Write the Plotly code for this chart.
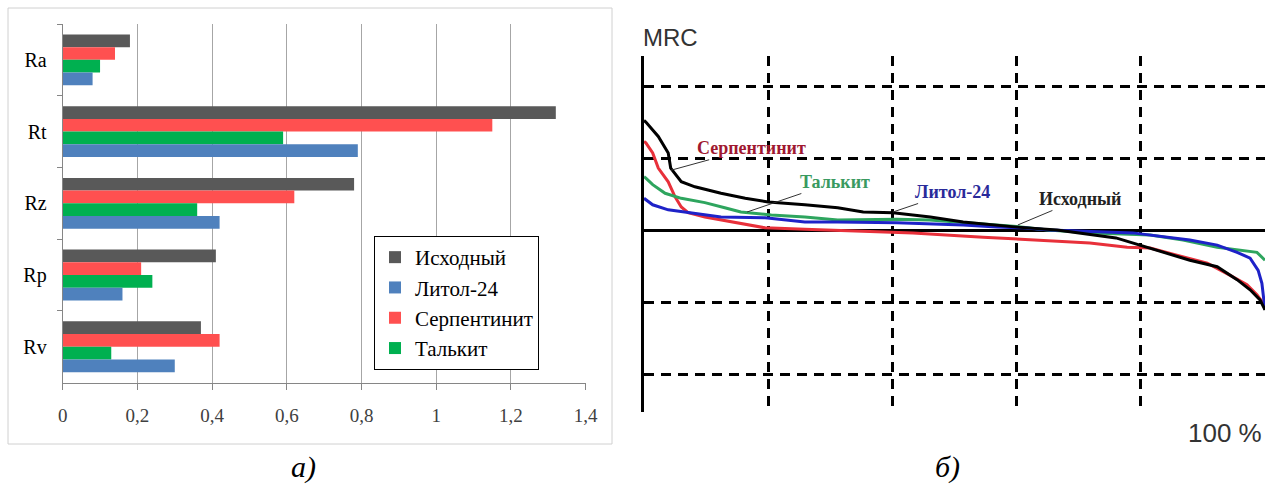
import plotly.graph_objects as go

# ---------- panel a) data ----------
params = ["Ra", "Rt", "Rz", "Rp", "Rv"]
ishodny = [0.18, 1.32, 0.78, 0.41, 0.37]
litol = [0.08, 0.79, 0.42, 0.16, 0.30]
serpentinit = [0.14, 1.15, 0.62, 0.21, 0.42]
talkit = [0.10, 0.59, 0.36, 0.24, 0.13]
xticks = [0, 0.2, 0.4, 0.6, 0.8, 1.0, 1.2, 1.4]
xticktext = ["0", "0,2", "0,4", "0,6", "0,8", "1", "1,2", "1,4"]

# ---------- panel б) data (material ratio curves) ----------
blk_x = [0, 0.3, 2.3, 3.9, 4.3, 6.0, 8.2, 12.4, 16.3, 20.0, 25.9, 31.2, 35.3, 40.1, 46.1, 51.4, 60.1, 66.5,
         76.0, 79.9, 84.2, 87.9, 92.3, 95.5, 97.6, 99.2, 100]
blk_y = [1.52, 1.50, 1.30, 1.07, 0.86, 0.67, 0.60, 0.51, 0.44, 0.39, 0.35, 0.31, 0.25, 0.24, 0.18, 0.11, 0.04, 0.0,
         -0.11, -0.21, -0.32, -0.42, -0.51, -0.69, -0.83, -0.97, -1.11]
red_x = [0, 0.3, 1.4, 2.3, 3.9, 5.0, 6.0, 7.1, 9.8, 15.1, 19.5, 25.9, 30.0, 43.3, 54.6, 63.8, 71.8, 77.8, 81.5,
         85.8, 90.7, 94.4, 97.1, 98.7, 99.7, 100]
red_y = [1.23, 1.21, 1.07, 0.86, 0.67, 0.46, 0.32, 0.24, 0.18, 0.10, 0.03, 0.01, 0.0, -0.04, -0.10, -0.14, -0.18,
         -0.24, -0.25, -0.35, -0.46, -0.63, -0.76, -0.90, -1.01, -1.05]
grn_x = [0, 0.3, 1.4, 3.4, 6.0, 9.8, 13.0, 15.6, 20.5, 25.9, 31.2, 40.7, 46.0, 50.4, 60.0, 65.0, 72.3, 81.5, 86.8,
         92.3, 96.5, 98.7, 100]
grn_y = [0.74, 0.72, 0.63, 0.51, 0.44, 0.38, 0.31, 0.25, 0.21, 0.18, 0.14, 0.15, 0.14, 0.11, 0.05, 0.0, -0.04,
         -0.07, -0.14, -0.24, -0.28, -0.31, -0.42]
blu_x = [0, 0.3, 1.4, 3.9, 7.1, 12.4, 19.5, 25.9, 31.2, 40.7, 51.4, 56.8, 61.0, 65.4, 78.7, 84.2, 87.9, 92.3, 95.5,
         97.6, 98.9, 99.5, 100]
blu_y = [0.44, 0.42, 0.35, 0.28, 0.24, 0.18, 0.17, 0.11, 0.11, 0.10, 0.07, 0.04, 0.03, 0.0, -0.04, -0.10, -0.14,
         -0.21, -0.31, -0.39, -0.56, -0.74, -1.11]
mrc_xgrid = [20, 40, 60, 80, 100]
mrc_ygrid = [-2, -1, 0, 1, 2]

W, H = 1276, 486
def px(x):
    return x / W
def py(y):
    return 1 - y / H

SERIF = "Liberation Serif, Times New Roman, serif"
SANS = "Liberation Sans, Arial, sans-serif"

fig = go.Figure()

# bars: trace order = top to bottom within group (y axis reversed)
bar_specs = [
    ("Исходный", ishodny, "#595959", 1),
    ("Серпентинит", serpentinit, "#FF5050", 3),
    ("Талькит", talkit, "#00B050", 4),
    ("Литол-24", litol, "#4F81BD", 2),
]
for name, vals, col, rank in bar_specs:
    fig.add_trace(go.Bar(
        y=params, x=vals, name=name, orientation="h",
        marker=dict(color=col, line=dict(width=0)),
        legendrank=rank, xaxis="x", yaxis="y",
    ))

# MRC curves
for xs, ys, col in [(red_x, red_y, "#E8303A"), (grn_x, grn_y, "#2EA55E"),
                    (blu_x, blu_y, "#1E22C8"), (blk_x, blk_y, "#000000")]:
    fig.add_trace(go.Scatter(
        x=xs, y=ys, mode="lines", line=dict(color=col, width=3),
        showlegend=False, xaxis="x2", yaxis="y2",
    ))

def paper_text(text, x, y, family, size, color="#000", xanchor="center"):
    return dict(text=text, x=px(x), y=py(y), xref="paper", yref="paper", xanchor=xanchor,
                yanchor="middle", showarrow=False, font=dict(family=family, size=size, color=color))

annotations = [
    paper_text("<i>а)</i>", 303, 467, SERIF, 30),
    paper_text("<i>б)</i>", 947, 467, SERIF, 30),
    paper_text("MRC", 641, 38, SANS, 24, "#333", "left"),
    paper_text("100 %", 1264, 433, SANS, 26, "#333", "right"),
]
labels = [
    ("Серпентинит", 4.35, 0.83, 80, -22, "#A01830"),
    ("Талькит", 16.6, 0.25, 88, -30, "#3A9A60"),
    ("Литол-24", 40.1, 0.25, 59, -20, "#2A2A9A"),
    ("Исходный", 60.2, 0.07, 62, -26, "#222222"),
]
for t, x, y, ax, ay, c in labels:
    annotations.append(dict(
        text="<b>%s</b>" % t, x=x, y=y, xref="x2", yref="y2", ax=ax, ay=ay,
        showarrow=True, arrowhead=0, arrowwidth=1, arrowcolor="#333",
        font=dict(family=SERIF, size=18, color=c),
    ))

fig.update_layout(
    width=W, height=H, margin=dict(l=0, r=0, t=0, b=0, autoexpand=False),
    font=dict(family=SERIF),
    paper_bgcolor="white", plot_bgcolor="white",
    barmode="group", bargap=0.29, bargroupgap=0,
    xaxis=dict(domain=[px(62.7), px(585.7)], range=[0, 1.4], tickvals=xticks, ticktext=xticktext,
               showgrid=True, gridcolor="#A6A6A6", gridwidth=1, zeroline=False,
               showline=True, linecolor="#868686", linewidth=1, automargin=False,
               ticks="outside", ticklen=6, tickcolor="#868686", ticklabelstandoff=9,
               tickfont=dict(family=SERIF, size=19, color="#404040"), anchor="y"),
    yaxis=dict(domain=[py(382.7), py(24)], type="category", categoryorder="array", categoryarray=params,
               autorange="reversed", tickson="boundaries", ticks="outside", ticklen=5,
               tickcolor="#868686", showline=True, linecolor="#868686", linewidth=1,
               showgrid=False, ticklabelstandoff=11, automargin=False,
               tickfont=dict(family=SERIF, size=20, color="#000"), anchor="x"),
    xaxis2=dict(domain=[px(644), px(1265)], range=[0, 100], tickvals=mrc_xgrid, showticklabels=False,
                showgrid=True, gridcolor="#000", gridwidth=3, griddash="10px,7px", automargin=False,
                zeroline=False, showline=False, ticks="", anchor="y2"),
    yaxis2=dict(domain=[py(412), py(56)], range=[-(412 - 230) / 72, (230 - 56) / 72], tickvals=mrc_ygrid,
                showticklabels=False, showgrid=True, gridcolor="#000", gridwidth=3, griddash="10px,7px",
                zeroline=True, zerolinecolor="#000", zerolinewidth=3, automargin=False,
                showline=True, linecolor="#000", linewidth=3, ticks="", anchor="x2"),
    legend=dict(x=px(374), y=py(236), xanchor="left", yanchor="top",
                bordercolor="#000", borderwidth=1, bgcolor="white",
                entrywidth=145, entrywidthmode="pixels",
                font=dict(family=SERIF, size=21, color="#000"), traceorder="normal"),
    shapes=[dict(type="rect", xref="paper", yref="paper", x0=px(8), x1=px(612), y0=py(444), y1=py(8),
                 line=dict(color="#D0D0D0", width=1), layer="below")],
    annotations=annotations,
)

fig.write_html("out.html", config={"displayModeBar": False},
               post_script="document.body.style.margin='0';")
